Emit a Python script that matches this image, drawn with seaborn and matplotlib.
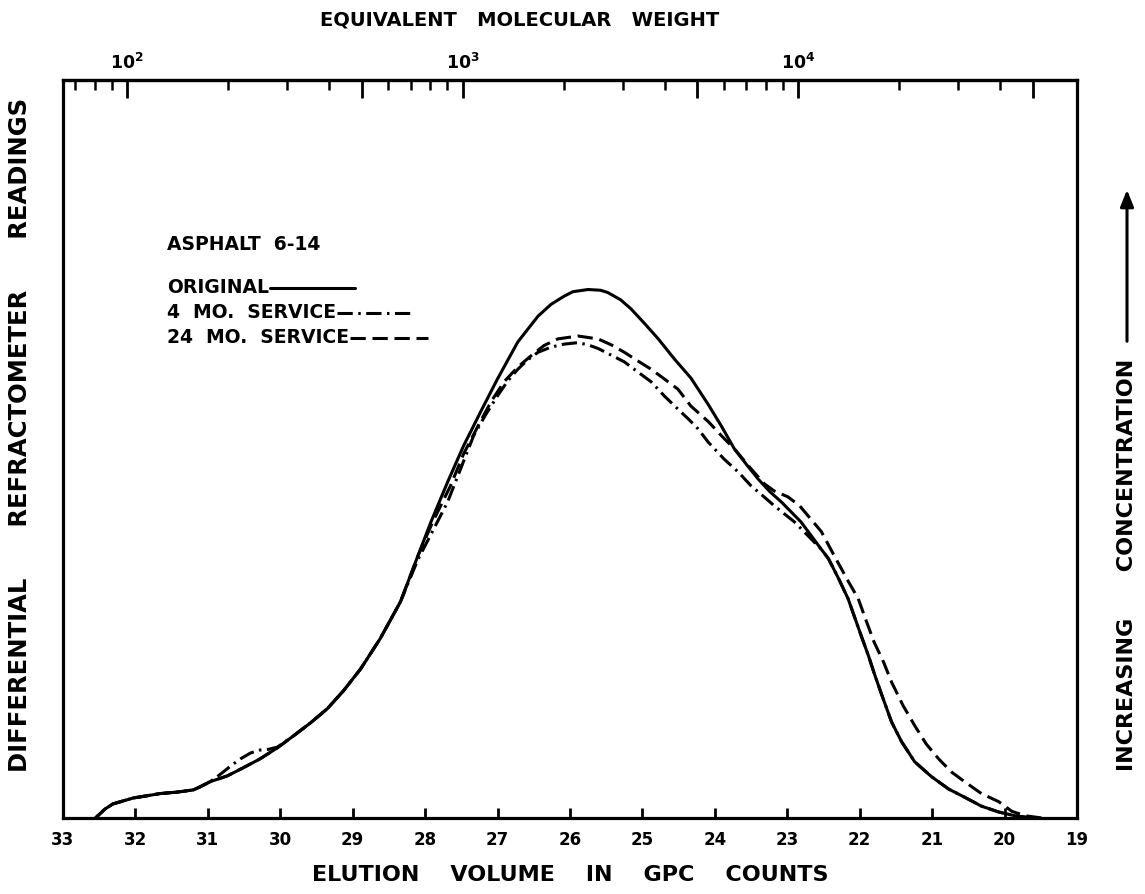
import numpy as np
import pandas as pd
import matplotlib
matplotlib.use("Agg")
import matplotlib.pyplot as plt
import seaborn as sns
from matplotlib.lines import Line2D
from matplotlib.patches import FancyArrowPatch
from matplotlib.offsetbox import TextArea, DrawingArea, HPacker, VPacker, AnchoredOffsetbox
from matplotlib.ticker import FixedLocator, FixedFormatter

# ---------------- data ----------------
elution_original = [32.55, 32.42, 32.31, 32.17, 32.03, 31.84, 31.66, 31.42, 31.20, 31.11,
                    30.97, 30.73, 30.51, 30.28, 30.04, 29.82, 29.58, 29.35, 29.13, 28.89,
                    28.62, 28.34, 28.10, 27.92, 27.69, 27.47, 27.23, 27.00, 26.72, 26.44,
                    26.26, 26.08, 25.96, 25.75, 25.58, 25.48, 25.30, 25.16, 24.98, 24.78,
                    24.56, 24.33, 24.09, 23.91, 23.73, 23.54, 23.40, 23.24, 23.08, 22.81,
                    22.53, 22.43, 22.29, 22.16, 22.07, 21.98, 21.88, 21.80, 21.70, 21.56,
                    21.42, 21.24, 21.01, 20.77, 20.55, 20.32, 20.08, 19.86, 19.63]
reading_original = [0.0, 1.2, 1.9, 2.3, 2.7, 3.0, 3.3, 3.5, 3.8, 4.2,
                    4.9, 5.7, 6.8, 8.0, 9.5, 11.1, 12.9, 14.8, 17.2, 20.2,
                    24.3, 29.3, 35.5, 40.1, 45.5, 50.4, 55.1, 59.5, 64.5, 68.0,
                    69.6, 70.7, 71.3, 71.6, 71.5, 71.2, 70.2, 69.0, 67.1, 64.9,
                    62.2, 59.6, 56.0, 53.1, 50.0, 47.6, 45.9, 44.2, 42.8, 40.1,
                    36.4, 35.1, 32.4, 29.7, 27.2, 24.7, 22.0, 19.6, 16.8, 13.0,
                    10.3, 7.6, 5.6, 3.9, 2.8, 1.6, 0.8, 0.3, 0.0]

elution_4mo = [32.55, 32.42, 32.31, 32.17, 32.03, 31.84, 31.66, 31.42, 31.20, 31.11,
               30.97, 30.87, 30.79, 30.69, 30.55, 30.41, 30.28, 30.16, 30.04, 29.82,
               29.58, 29.35, 29.13, 28.89, 28.62, 28.34, 28.10, 27.90, 27.69, 27.51,
               27.33, 27.16, 27.00, 26.86, 26.72, 26.58, 26.44, 26.26, 26.08, 25.89,
               25.75, 25.61, 25.43, 25.25, 25.06, 24.88, 24.70, 24.51, 24.37, 24.23,
               24.09, 23.87, 23.68, 23.50, 23.32, 23.18, 22.90, 22.53, 22.43, 22.29,
               22.16, 22.07, 21.98, 21.88, 21.80, 21.70, 21.56, 21.42, 21.24, 21.01,
               20.77, 20.55, 20.32, 20.08, 19.86, 19.63]
reading_4mo = [0.0, 1.2, 1.9, 2.3, 2.7, 3.0, 3.3, 3.5, 3.8, 4.2,
               4.9, 5.6, 6.2, 7.0, 8.0, 8.8, 9.2, 9.3, 9.6, 11.1,
               12.9, 14.8, 17.2, 20.2, 24.3, 29.3, 35.0, 38.8, 42.8, 47.3,
               51.8, 54.7, 57.2, 59.2, 60.8, 62.1, 63.1, 63.8, 64.2, 64.4,
               64.1, 63.6, 62.7, 61.8, 60.4, 59.1, 57.2, 55.4, 54.1, 52.7,
               50.9, 48.6, 46.9, 45.0, 43.5, 42.3, 40.1, 36.4, 35.1, 32.4,
               29.7, 27.2, 24.7, 22.0, 19.6, 16.8, 13.0, 10.3, 7.6, 5.6,
               3.9, 2.8, 1.6, 0.8, 0.3, 0.0]

elution_24mo = [32.55, 32.42, 32.31, 32.17, 32.03, 31.84, 31.66, 31.42, 31.20, 31.11,
                30.97, 30.73, 30.51, 30.28, 30.04, 29.82, 29.58, 29.35, 29.13, 28.89,
                28.62, 28.34, 28.10, 27.90, 27.65, 27.47, 27.27, 27.09, 26.91, 26.72,
                26.54, 26.36, 26.17, 25.89, 25.61, 25.43, 25.25, 25.06, 24.88, 24.70,
                24.51, 24.33, 24.09, 23.91, 23.73, 23.50, 23.32, 23.18, 22.99, 22.83,
                22.71, 22.53, 22.35, 22.16, 22.02, 21.91, 21.80, 21.67, 21.56, 21.40,
                21.24, 21.08, 20.91, 20.73, 20.55, 20.32, 20.08, 19.90, 19.72, 19.49]
reading_24mo = [0.0, 1.2, 1.9, 2.3, 2.7, 3.0, 3.3, 3.5, 3.8, 4.2,
                4.9, 5.7, 6.8, 8.0, 9.5, 11.1, 12.9, 14.8, 17.2, 20.2,
                24.3, 29.3, 35.5, 40.0, 45.0, 49.3, 53.1, 56.4, 59.1, 61.1,
                62.6, 64.0, 64.9, 65.3, 64.9, 64.1, 63.1, 61.9, 60.8, 59.5,
                58.1, 55.8, 53.7, 51.8, 50.0, 47.3, 45.3, 44.3, 43.5, 42.3,
                40.9, 38.8, 35.5, 32.1, 29.7, 26.7, 23.8, 21.1, 18.4, 15.2,
                12.5, 10.0, 8.0, 6.2, 4.9, 3.3, 2.2, 0.9, 0.3, 0.0]

series_names = ["ORIGINAL", "4  MO.  SERVICE", "24  MO.  SERVICE"]
legend_title = "ASPHALT  6-14"

bottom_ticks = list(range(33, 18, -1))
top_major = [100, 500, 1000, 5000, 10000, 50000]
top_major_labels = [r"$\mathbf{10^2}$", "", r"$\mathbf{10^3}$", "", r"$\mathbf{10^4}$", ""]
top_minor = [70, 80, 90, 200, 300, 400, 600, 700, 800, 900,
             2000, 3000, 4000, 6000, 7000, 8000, 9000, 20000, 30000, 40000]

# calibration: elution volume of MW=100 and counts per decade
V_REF = 32.115
DECADE = 4.633

# ---------------- styling ----------------
sns.set_style("white")
plt.rcParams["font.family"] = ["DejaVu Sans"]
plt.rcParams["font.weight"] = "bold"
plt.rcParams["mathtext.default"] = "bf"
for k in ["text.color", "axes.labelcolor", "xtick.color", "ytick.color", "axes.edgecolor"]:
    plt.rcParams[k] = "black"

fig = plt.figure(figsize=(11.45, 8.95), dpi=100)
ax = fig.add_axes([0.055, 0.085, 0.8856, 0.8246])

df = pd.concat([
    pd.DataFrame({"elution": elution_original, "reading": reading_original, "sample": series_names[0]}),
    pd.DataFrame({"elution": elution_4mo, "reading": reading_4mo, "sample": series_names[1]}),
    pd.DataFrame({"elution": elution_24mo, "reading": reading_24mo, "sample": series_names[2]}),
], ignore_index=True)

dash_map = {series_names[0]: "", series_names[1]: (5, 1.8, 0.8, 1.8), series_names[2]: (5, 2.2)}
sns.lineplot(data=df, x="elution", y="reading", hue="sample", style="sample",
             palette={n: "black" for n in series_names}, dashes=dash_map,
             estimator=None, sort=True, linewidth=2.2, legend=False, ax=ax)

ax.set_xlim(33, 19)
ax.set_ylim(0, 100)
ax.set_yticks([])
ax.set_ylabel("")
ax.set_xticks(bottom_ticks)
ax.set_xticklabels([str(t) for t in bottom_ticks])
ax.tick_params(axis="x", which="major", direction="in", length=7, width=2,
               labelsize=12, pad=9, bottom=True, top=False)
for s in ax.spines.values():
    s.set_visible(True)
    s.set_linewidth(2.3)
    s.set_color("black")
ax.set_xlabel("ELUTION    VOLUME    IN    GPC    COUNTS", fontsize=16, fontweight="bold", labelpad=11)


def vol_to_mw(v):
    return 10 ** (2 + (V_REF - np.asarray(v, dtype=float)) / DECADE)


def mw_to_vol(m):
    m = np.clip(np.asarray(m, dtype=float), 1e-12, None)
    return V_REF - DECADE * (np.log10(m) - 2)


secax = ax.secondary_xaxis("top", functions=(vol_to_mw, mw_to_vol))
secax.xaxis.set_major_locator(FixedLocator(top_major))
secax.xaxis.set_major_formatter(FixedFormatter(top_major_labels))
secax.xaxis.set_minor_locator(FixedLocator(top_minor))
secax.tick_params(axis="x", which="major", direction="in", length=13, width=2, labelsize=12.5, pad=6)
secax.tick_params(axis="x", which="minor", direction="in", length=7, width=1.8)
for s in secax.spines.values():
    s.set_linewidth(2.3)

# ---------------- outer labels ----------------
W, H = 1145.0, 895.0
fig.text(520 / W, 1 - 20 / H, "EQUIVALENT   MOLECULAR   WEIGHT", ha="center", va="center",
         fontsize=14, fontweight="bold")
fig.text(20 / W, 1 - 435 / H, "DIFFERENTIAL      REFRACTOMETER      READINGS", rotation=90,
         ha="center", va="center", fontsize=17.5, fontweight="bold")
fig.text(1127 / W, 1 - 565 / H, "INCREASING      CONCENTRATION", rotation=90,
         ha="center", va="center", fontsize=16, fontweight="bold")
fig.patches.append(FancyArrowPatch(
    (1127 / W, 1 - 345 / H), (1127 / W, 1 - 188 / H), transform=fig.transFigure,
    arrowstyle="-|>,head_length=10,head_width=4", mutation_scale=1, lw=2.2, color="black"))

# ---------------- legend built from text + line samples ----------------
def legend_row(label, dashes, length):
    ta = TextArea(label, textprops=dict(fontsize=13.5, fontweight="bold", color="black"))
    da = DrawingArea(length, 10, 0, 0)
    ln = Line2D([0, length], [4, 4], color="black", lw=2.2)
    if dashes:
        ln.set_dashes(dashes)
    da.add_artist(ln)
    return HPacker(children=[ta, da], align="center", pad=0, sep=1)


rows = [TextArea(legend_title, textprops=dict(fontsize=13.5, fontweight="bold", color="black")),
        DrawingArea(1, 8, 0, 0)]
for name, length in zip(series_names, [61, 56, 56]):
    rows.append(legend_row(name, dash_map[name], length))
box = VPacker(children=rows, align="left", pad=0, sep=4.5)
anchored = AnchoredOffsetbox(loc="upper left", child=box, pad=0, borderpad=0, frameon=False,
                             bbox_to_anchor=(167 / W, 1 - 235 / H), bbox_transform=fig.transFigure)
ax.add_artist(anchored)

fig.savefig("out.png", dpi=100)
